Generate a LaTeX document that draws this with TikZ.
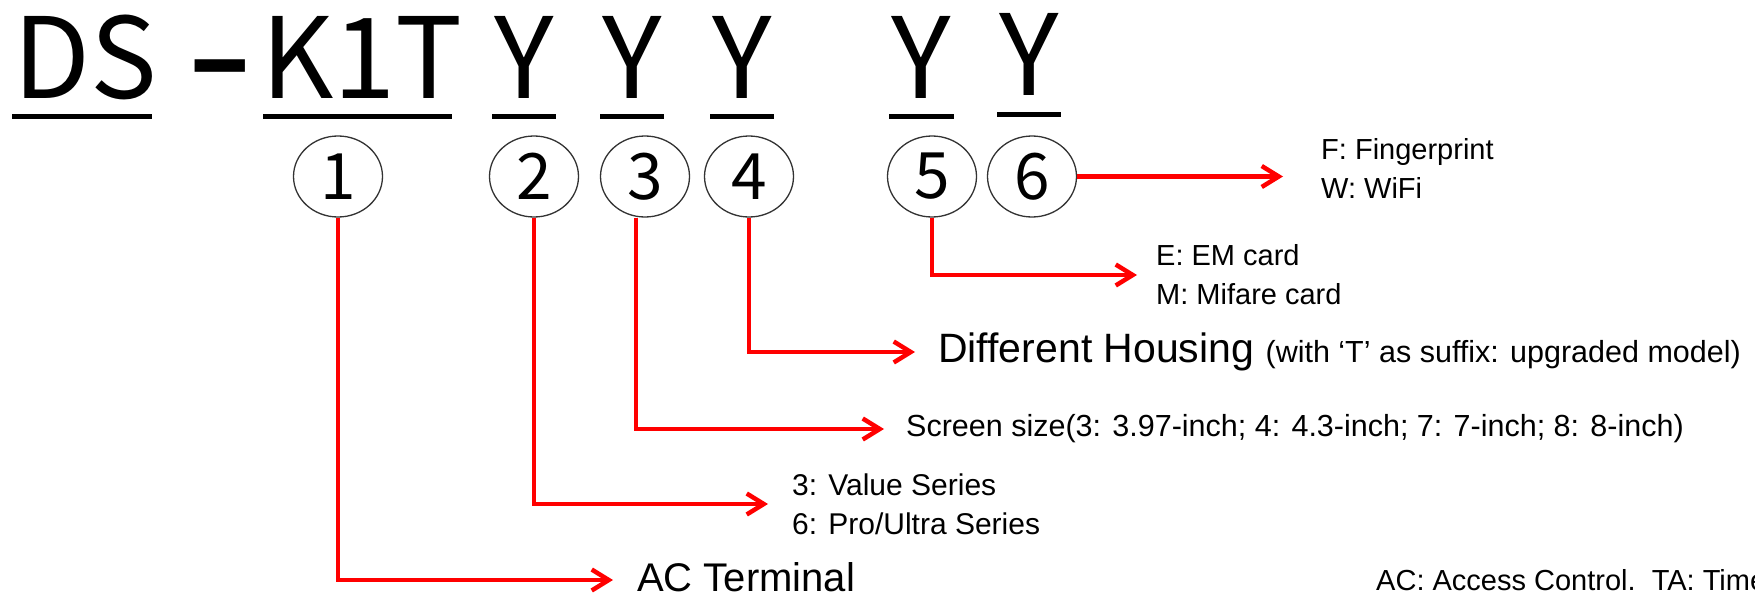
\documentclass[tikz,border=0pt]{standalone}
\usepackage{fontspec}
\setmainfont{Liberation Sans}
\newfontfamily\codefont{Noto Sans CJK SC}
\usetikzlibrary{arrows.meta,shapes.geometric}

\begin{document}
\begin{tikzpicture}[x=1pt,y=-1pt,
	code/.style={inner sep=0pt,anchor=base,text height=80pt,text depth=0pt,
		font=\codefont\fontsize{112}{112}\selectfont},
	bar/.style={line width=5pt},
	num/.style={ellipse,draw=black!80,line width=1.3pt,minimum width=89pt,minimum height=81pt,
		inner sep=0pt,font=\codefont\fontsize{64}{64}\selectfont},
	link/.style={red,line width=4.5pt,-{Straight Barb[length=17pt,width=21pt]}},
	note/.style={inner sep=0pt,anchor=west,align=left,font=\fontsize{29}{39}\selectfont}]
\useasboundingbox (0,0) rectangle (1755,594);
% model code
\node[code] (ds) at (85,98) {DS};
\node[code] (dash) at (220,98) {\textbf{–}};
\node[code] (k1t) at (362,98) {K1T};
\node[code] (y1) at (524,98) {Y};
\node[code] (y2) at (632,98) {Y};
\node[code] (y3) at (742,98) {Y};
\node[code] (y4) at (921,98) {Y};
\node[code] (y5) at (1029,95) {Y};
% underlines
\draw[bar] (12,116) -- (152,116);
\draw[bar] (263,116) -- (452,116);
\draw[bar] (492,116) -- (556,116);
\draw[bar] (600,116) -- (664,116);
\draw[bar] (710,116) -- (774,116);
\draw[bar] (889,116) -- (954,116);
\draw[bar] (997,114) -- (1061,114);
% circled numbers
\node[num] (n1) at (338,176.5) {1};
\node[num] (n2) at (534,176.5) {2};
\node[num] (n3) at (645,176.5) {3};
\node[num] (n4) at (749,176.5) {4};
\node[num] (n5) at (932,176.5) {5};
\node[num] (n6) at (1032,176.5) {6};
% meanings
\node[note,anchor=base west,text height=22pt,text depth=0pt,font=\fontsize{40}{40}\selectfont]
	(term) at (637,591) {AC Terminal};
\node[note,font=\fontsize{30}{39}\selectfont] (series) at (792,504) {3: Value Series\\6: Pro/Ultra Series};
\node[note,font=\fontsize{30.5}{36}\selectfont] (screen) at (906,429)
	{Screen size(3: 3.97-inch; 4: 4.3-inch; 7: 7-inch; 8: 8-inch)};
\node[note,font=\fontsize{41}{41}\selectfont] (housing) at (938,352)
	{Different Housing {\fontsize{30.5}{36}\selectfont (with ‘T’ as suffix: upgraded model)}};
\node[note] (card) at (1156,275) {E: EM card\\M: Mifare card};
\node[note] (finger) at (1321,168) {F: Fingerprint\\W: WiFi};
\node[note,anchor=base west,text depth=0pt] (legend) at (1376,590) {AC: Access Control.\ \ TA: Time Attendance};
% connectors
\draw[link,shorten >=24pt] (n1.south) |- (term.west);
\draw[link,shorten >=24pt] (n2.south) |- (series.west);
\draw[link,shorten >=22pt] ([xshift=-9pt]n3.south) |- (screen.west);
\draw[link,shorten >=23pt] (n4.south) |- (housing.west);
\draw[link,shorten >=19pt] (n5.south) |- (card.west);
\draw[link,shorten >=38pt] (n6.east) -- (n6.east -| finger.west);
\end{tikzpicture}
\end{document}
